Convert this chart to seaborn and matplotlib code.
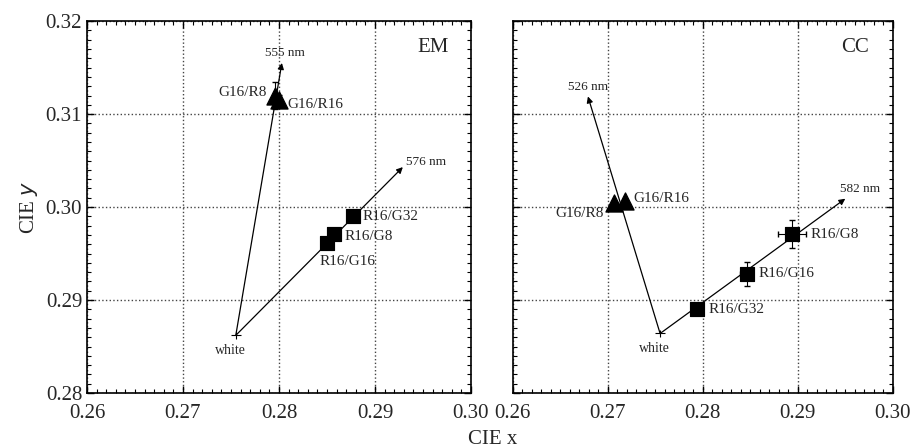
import numpy as np
import pandas as pd
import matplotlib
matplotlib.use("Agg")
import matplotlib.pyplot as plt
from matplotlib.ticker import MultipleLocator
import seaborn as sns

# dados (coordenadas CIE x, y)
paineis = ["EM", "CC"]
branco_x = [0.2755, 0.2755]
branco_y = [0.2862, 0.2864]

# pontas das setas (comprimento de onda dominante)
seta_nome = [["555 nm", "576 nm"], ["526 nm", "582 nm"]]
seta_x = [[0.2803, 0.2929], [0.2679, 0.2950]]
seta_y = [[0.3155, 0.3043], [0.3119, 0.3009]]

# triângulos (G16/...)
tri_nome = [["G16/R8", "G16/R16"], ["G16/R8", "G16/R16"]]
tri_x = [[0.2796, 0.2800], [0.2706, 0.2718]]
tri_y = [[0.3120, 0.3115], [0.3004, 0.3006]]
tri_yerr = [[0.0015, 0.0006], [0.0003, 0.0003]]

# quadrados (R16/...)
qua_nome = [["R16/G32", "R16/G8", "R16/G16"], ["R16/G32", "R16/G16", "R16/G8"]]
qua_x = [[0.2877, 0.2857, 0.2850], [0.2794, 0.2846, 0.2894]]
qua_y = [[0.2990, 0.2971, 0.2961], [0.2890, 0.2928, 0.2971]]
qua_xerr = [[0.0003, 0.0003, 0.0003], [0.0003, 0.0007, 0.0015]]
qua_yerr = [[0.0003, 0.0003, 0.0003], [0.0004, 0.0013, 0.0015]]

# deslocamento dos rótulos em pontos (dx, dy, alinhamento)
tri_off = [[(-6, 2, "right"), (6, -3, "left")], [(-7, -7, "right"), (6, 2, "left")]]
qua_off = [[(7, 0, "left"), (8, -2, "left"), (15, -13, "center")],
           [(8, 0, "left"), (9, 0, "left"), (13, 0, "left")]]
seta_off = [[(2, 7, "center"), (2, 4, "left")], [(0, 7, "center"), (-4, 7, "left")]]

sns.set_style("ticks")
plt.rcParams["font.family"] = ["Liberation Serif", "DejaVu Serif"]

fig = plt.figure(figsize=(9.11, 4.48), dpi=100)
ax1 = fig.add_axes([0.0955, 0.1228, 0.4215, 0.830])
ax2 = fig.add_axes([0.563, 0.1228, 0.417, 0.830])

for i, ax in enumerate([ax1, ax2]):
    # setas a partir do ponto branco
    for k in range(2):
        ax.annotate("", xy=(seta_x[i][k], seta_y[i][k]), xytext=(branco_x[i], branco_y[i]),
                    arrowprops=dict(arrowstyle="-|>", color="black", lw=0.9,
                                    mutation_scale=9, shrinkA=0, shrinkB=0))
        dx, dy, ha = seta_off[i][k]
        ax.annotate(seta_nome[i][k], (seta_x[i][k], seta_y[i][k]), xytext=(dx, dy),
                    textcoords="offset points", ha=ha, va="center", fontsize=9.5)

    # ponto branco com barras de erro
    ax.errorbar([branco_x[i]], [branco_y[i]], xerr=0.0005, yerr=0.0004, fmt="none",
                ecolor="black", elinewidth=0.8, capsize=0)
    ax.annotate("white", (branco_x[i], branco_y[i]), xytext=(-4, -11),
                textcoords="offset points", ha="center", va="center", fontsize=10)

    df_tri = pd.DataFrame({"x": tri_x[i], "y": tri_y[i], "nome": tri_nome[i]})
    df_qua = pd.DataFrame({"x": qua_x[i], "y": qua_y[i], "nome": qua_nome[i]})

    ax.errorbar(df_tri.x, df_tri.y, yerr=tri_yerr[i], fmt="none", ecolor="black",
                elinewidth=0.8, capsize=2)
    ax.errorbar(df_qua.x, df_qua.y, xerr=qua_xerr[i], yerr=qua_yerr[i], fmt="none",
                ecolor="black", elinewidth=0.8, capsize=2)
    sns.scatterplot(data=df_tri, x="x", y="y", marker="^", s=150, color="black",
                    edgecolor="black", ax=ax, zorder=5)
    sns.scatterplot(data=df_qua, x="x", y="y", marker="s", s=110, color="black",
                    edgecolor="black", ax=ax, zorder=5)

    for k, row in df_tri.iterrows():
        dx, dy, ha = tri_off[i][k]
        ax.annotate(row.nome, (row.x, row.y), xytext=(dx, dy), textcoords="offset points",
                    ha=ha, va="center", fontsize=11)
    for k, row in df_qua.iterrows():
        dx, dy, ha = qua_off[i][k]
        ax.annotate(row.nome, (row.x, row.y), xytext=(dx, dy), textcoords="offset points",
                    ha=ha, va="center", fontsize=11)

    ax.text(0.90, 0.93, paineis[i], transform=ax.transAxes, ha="center", va="center",
            fontsize=15)

    ax.set_xlim(0.26, 0.30)
    ax.set_ylim(0.28, 0.32)
    ax.xaxis.set_major_locator(MultipleLocator(0.01))
    ax.yaxis.set_major_locator(MultipleLocator(0.01))
    ax.xaxis.set_minor_locator(MultipleLocator(0.001))
    ax.yaxis.set_minor_locator(MultipleLocator(0.001))
    ax.xaxis.set_major_formatter(matplotlib.ticker.FormatStrFormatter("%.2f"))
    ax.yaxis.set_major_formatter(matplotlib.ticker.FormatStrFormatter("%.2f"))
    ax.tick_params(which="both", direction="in", top=True, right=True, labelsize=15,
                   color="black")
    ax.tick_params(which="major", length=5, width=1)
    ax.tick_params(which="minor", length=3, width=0.8)
    ax.tick_params(axis="x", which="major", pad=8)
    ax.grid(True, which="major", linestyle=":", color="#444444", linewidth=1)
    for s in ax.spines.values():
        s.set_linewidth(1.2)
        s.set_color("black")
    ax.set_xlabel("")
    ax.set_ylabel("")

ax1.set_ylabel("CIE $y$", fontsize=15, labelpad=4)
ax2.tick_params(labelleft=False)
fig.text(0.541, 0.02, "CIE x", ha="center", va="center", fontsize=15)

fig.savefig("out.png", dpi=100)
